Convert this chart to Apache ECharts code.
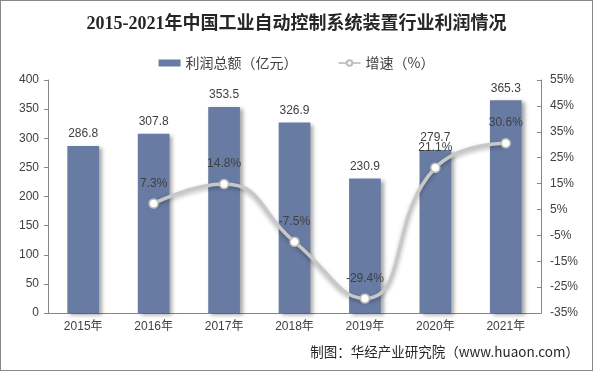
<!DOCTYPE html>
<html><head><meta charset="utf-8">
<script src="https://cdn.jsdelivr.net/npm/echarts@6/dist/echarts.min.js"></script>
<style>html,body{margin:0;padding:0;background:#fff}#w{position:relative;width:593px;height:371px}#c{width:593px;height:371px}#b{position:absolute;left:0;top:0;width:593px;height:371px;box-sizing:border-box;border:1px solid #888;pointer-events:none}</style>
</head><body><div id="w"><div id="c"></div><div id="b"></div></div>
<script>
const categories = ['2015年','2016年','2017年','2018年','2019年','2020年','2021年'];
const profit = [286.8, 307.8, 353.5, 326.9, 230.9, 279.7, 365.3];
const growth = [null, 7.3, 14.8, -7.5, -29.4, 21.1, 30.6];
const titleText = '2015-2021年中国工业自动控制系统装置行业利润情况';
const sourceText = '制图：华经产业研究院（www.huaon.com）';

const chart = echarts.init(document.getElementById('c'));
const lab = {color:'#404040', fontSize:12, fontFamily:'Liberation Sans, Arial, Noto Sans CJK SC'};
chart.setOption({
  animation:false,
  title:{text:titleText, left:'center', top:10,
    textStyle:{fontSize:18, fontWeight:'bold', color:'#262626', fontFamily:'Liberation Serif, Noto Sans CJK SC'}},
  legend:{top:51, left:'center', itemGap:40, itemWidth:22, itemHeight:7,
    textStyle:{fontSize:14, color:'#404040', fontFamily:'Noto Sans CJK SC'},
    data:[{name:'利润总额（亿元）', icon:'rect'},{name:'增速（%）'}]},
  grid:{left:48, right:52, top:80, bottom:58},
  xAxis:{type:'category', data:categories,
    axisLine:{lineStyle:{color:'#868686'}}, axisTick:{length:5, lineStyle:{color:'#868686'}},
    axisLabel:Object.assign({margin:8}, lab)},
  yAxis:[
    {type:'value', min:0, max:400, interval:50, splitLine:{show:false},
      axisLine:{show:true, lineStyle:{color:'#868686'}}, axisTick:{show:true, length:4, lineStyle:{color:'#868686'}},
      axisLabel:Object.assign({margin:9}, lab)},
    {type:'value', min:-35, max:55, interval:10, splitLine:{show:false},
      axisLine:{show:true, lineStyle:{color:'#868686'}}, axisTick:{show:true, inside:true, length:4, lineStyle:{color:'#868686'}},
      axisLabel:Object.assign({margin:9, formatter:'{value}%'}, lab)}
  ],
  series:[
    {name:'利润总额（亿元）', type:'bar', data:profit, barWidth:'45%',
      itemStyle:{color:'#687ba3', shadowColor:'rgba(0,0,0,0.35)', shadowBlur:4, shadowOffsetX:3, shadowOffsetY:2},
      label:Object.assign({show:true, position:'top', distance:6}, lab)},
    {name:'增速（%）', type:'line', yAxisIndex:1, data:growth, smooth:0.5,
      symbol:'circle', symbolSize:9, showSymbol:true,
      lineStyle:{color:'#c8c8c8', width:3.5, shadowColor:'rgba(0,0,0,0.3)', shadowBlur:4, shadowOffsetY:2},
      itemStyle:{color:'#fff', borderColor:'#bdbdbd', borderWidth:1.5},
      label:Object.assign({show:true, position:'top', distance:9, formatter:p=>p.value.toFixed(1)+'%'}, lab)}
  ],
  graphic:[{type:'text', right:14, top:345,
    style:{text:sourceText, fontSize:13.5, fill:'#262626', fontFamily:'Noto Sans CJK SC'}}]
});
</script></body></html>
